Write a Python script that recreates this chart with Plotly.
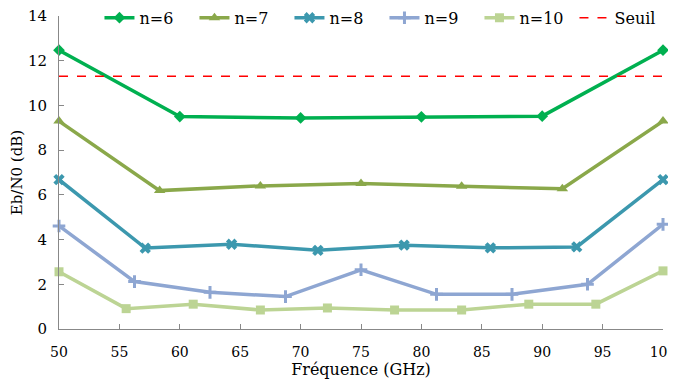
import plotly.graph_objects as go

x6 = [50, 60, 70, 80, 90, 100]
y6 = [12.47, 9.50, 9.44, 9.49, 9.52, 12.47]
x7 = [50, 58.33, 66.67, 75, 83.33, 91.67, 100]
y7 = [9.30, 6.19, 6.40, 6.51, 6.38, 6.27, 9.30]
x8 = [50, 57.14, 64.29, 71.43, 78.57, 85.71, 92.86, 100]
y8 = [6.68, 3.62, 3.79, 3.52, 3.75, 3.63, 3.67, 6.68]
x9 = [50, 56.25, 62.5, 68.75, 75, 81.25, 87.5, 93.75, 100]
y9 = [4.61, 2.12, 1.64, 1.45, 2.65, 1.55, 1.55, 2.00, 4.68]
x10 = [50, 55.56, 61.11, 66.67, 72.22, 77.78, 83.33, 88.89, 94.44, 100]
y10 = [2.56, 0.91, 1.11, 0.85, 0.94, 0.85, 0.85, 1.11, 1.11, 2.60]
seuil_x = [50, 100]
seuil_y = [11.31, 11.31]

series = [
    ("n=6", x6, y6, "#00B050", "diamond", 9),
    ("n=7", x7, y7, "#8AA84A", "triangle-up", 10),
    ("n=8", x8, y8, "#3C98AE", "x", 10),
    ("n=9", x9, y9, "#8EA6D2", "cross-thin", 9),
    ("n=10", x10, y10, "#BCD494", "square", 9),
]

SERIF = "DejaVu Serif"

fig = go.Figure()
for name, xs, ys, col, sym, sz in series:
    mk = dict(symbol=sym, size=sz, color=col)
    if sym == "cross-thin":
        mk["line"] = dict(color=col, width=3)
    fig.add_trace(go.Scatter(x=xs, y=ys, name=name, mode="lines+markers",
                             line=dict(color=col, width=3.5), marker=mk))
fig.add_trace(go.Scatter(x=seuil_x, y=seuil_y, name="Seuil", mode="lines",
                         line=dict(color="#FF0000", width=1.5, dash="dash")))

fig.update_layout(
    width=676, height=385,
    margin=dict(l=51, r=21, t=8, b=64, autoexpand=False),
    plot_bgcolor="white", paper_bgcolor="white",
    font=dict(family=SERIF, size=15, color="black"),
    showlegend=True,
    legend=dict(orientation="h", x=0.067, y=1.0485, xanchor="left", yanchor="top",
                bgcolor="rgba(0,0,0,0)", font=dict(family=SERIF, size=16),
                entrywidth=50, entrywidthmode="pixels", itemwidth=30,
                tracegroupgap=0),
    xaxis=dict(range=[50, 100], tickvals=[50, 55, 60, 65, 70, 75, 80, 85, 90, 95, 100],
               ticktext=["50", "55", "60", "65", "70", "75", "80", "85", "90", "95", "100"],
               showline=True, linecolor="#888888", linewidth=1, ticks="inside",
               ticklen=5, tickcolor="#888888", showgrid=False, zeroline=False,
               ticklabeloverflow="allow", tickfont=dict(size=14), ticklabelstandoff=10,
               title=dict(text="Fréquence (GHz)", standoff=4, font=dict(family=SERIF, size=16))),
    yaxis=dict(range=[0, 14], tickvals=[0, 2, 4, 6, 8, 10, 12, 14],
               showline=True, linecolor="#888888", linewidth=1, ticks="inside",
               ticklen=5, tickcolor="#888888", showgrid=False, zeroline=False,
               ticklabeloverflow="allow", tickfont=dict(size=15), ticklabelstandoff=8,
               title=dict(text="Eb/N0 (dB)", standoff=8, font=dict(family=SERIF, size=15))),
)
fig.update_traces(cliponaxis=False)
fig.write_html("out.html")
